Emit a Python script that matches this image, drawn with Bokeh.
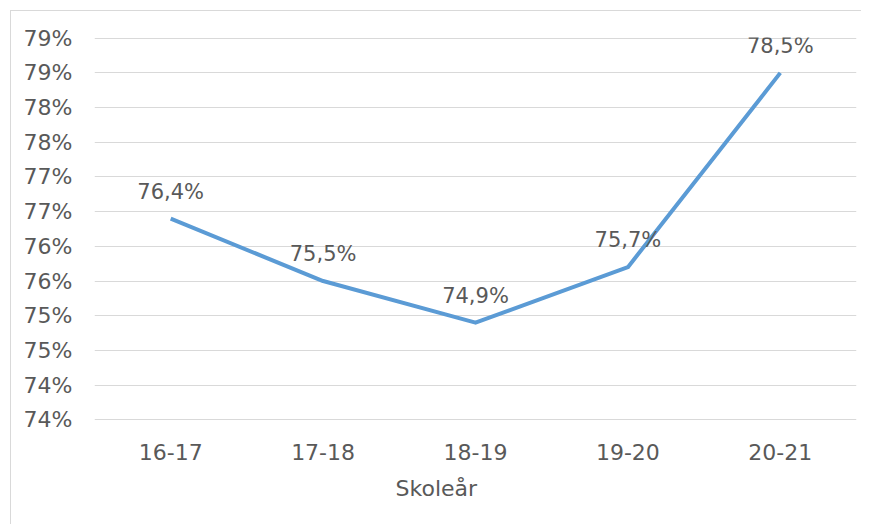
from bokeh.plotting import figure
from bokeh.models import (ColumnDataSource, FixedTicker, LabelSet, Title, Range1d)
from bokeh.core.properties import value
from bokeh.embed import file_html
from bokeh.resources import INLINE

# data
years = ["16-17", "17-18", "18-19", "19-20", "20-21"]
rates = [76.4, 75.5, 74.9, 75.7, 78.5]
rate_labels = ["76,4%", "75,5%", "74,9%", "75,7%", "78,5%"]
y_ticks = [73.5, 74.0, 74.5, 75.0, 75.5, 76.0, 76.5, 77.0, 77.5, 78.0, 78.5, 79.0]
y_tick_labels = ["74%", "74%", "75%", "75%", "76%", "76%", "77%", "77%", "78%", "78%", "79%", "79%"]
x_title = "Skoleår"

FONT = "DejaVu Sans"
TXT = "#595959"

src = ColumnDataSource(dict(x=years, y=rates, lab=rate_labels))

p = figure(width=851, height=514, x_range=years, y_range=Range1d(73.49, 79.01),
           output_backend="svg", toolbar_location=None,
           min_border_left=83, min_border_right=6, min_border_top=26, min_border_bottom=105)
p.outline_line_color = None
p.styles = {"margin-left": "10px", "margin-top": "10px",
            "border-left": "1px solid #D9D9D9", "border-top": "1px solid #D9D9D9"}

p.line("x", "y", source=src, line_color="#5B9BD5", line_width=4, line_join="round")

labels = LabelSet(x="x", y="y", text="lab", source=src, text_align="center",
                  text_baseline="middle", y_offset=27, text_font=value(FONT),
                  text_font_size=value("21px"), text_color=value(TXT))
p.add_layout(labels)

p.yaxis.ticker = FixedTicker(ticks=y_ticks)
p.yaxis.major_label_overrides = {t: l for t, l in zip(y_ticks, y_tick_labels)}
for ax in (p.xaxis, p.yaxis):
    ax.axis_line_color = None
    ax.major_tick_line_color = None
    ax.minor_tick_line_color = None
    ax.major_label_text_font = FONT
    ax.major_label_text_font_size = "22px"
    ax.major_label_text_color = TXT
p.yaxis.major_label_standoff = 16
p.xaxis.major_label_standoff = 17

p.xgrid.grid_line_color = None
p.ygrid.grid_line_color = "#D9D9D9"
p.ygrid.grid_line_width = 1

title = Title(text=x_title, align="left", offset=301, text_font=FONT,
              text_font_size="22px", text_color=TXT, text_font_style="normal",
              standoff=22)
p.add_layout(title, "below")

open("out.html", "w").write(file_html(p, INLINE))
